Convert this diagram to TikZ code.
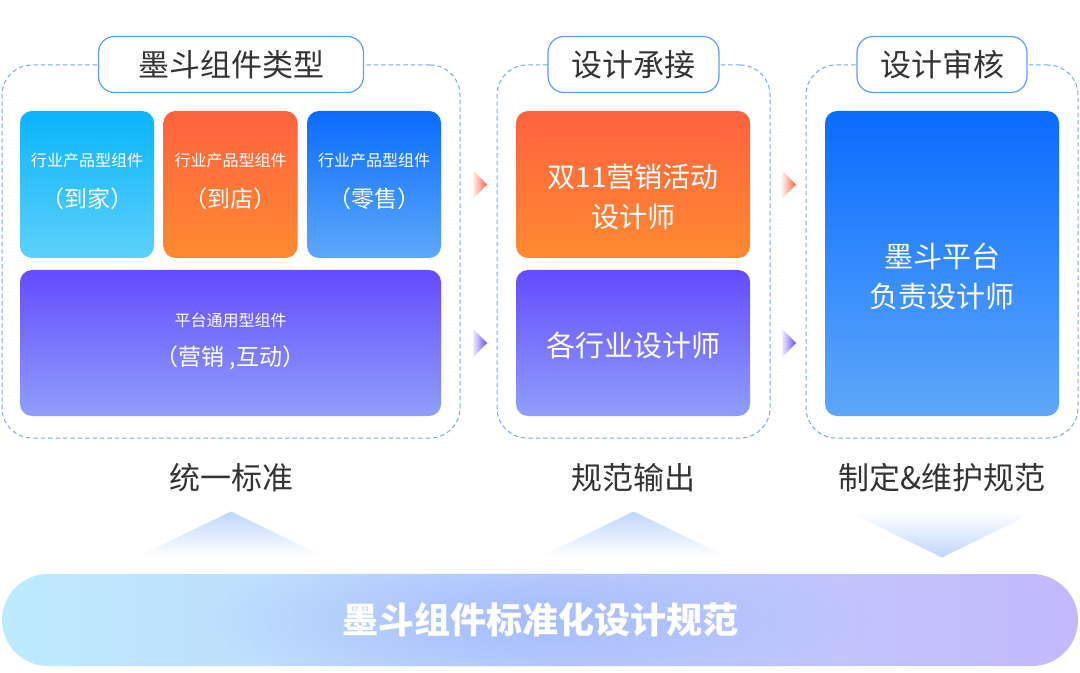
\documentclass[tikz,border=0pt]{standalone}
\usepackage{fontspec}
\setmainfont{Noto Sans CJK SC}
\usetikzlibrary{calc,fadings}
\definecolor{mdtext}{HTML}{333333}
\definecolor{mddash}{HTML}{6EA8F5}
\definecolor{mdtab}{HTML}{5E9EF6}
\definecolor{mycyan}{HTML}{0AB4FC}
\definecolor{mycyanlt}{HTML}{5DD0FA}
\definecolor{myorange}{HTML}{FF6240}
\definecolor{myorangelt}{HTML}{FF8A31}
\definecolor{myblue}{HTML}{0A6CFF}
\definecolor{mybluelt}{HTML}{5EA8FA}
\definecolor{mypurple}{HTML}{644CFF}
\definecolor{mypurplelt}{HTML}{909EFA}
\definecolor{mytri}{HTML}{BFD6FD}
\definecolor{mybarleft}{HTML}{BDEBFD}
\definecolor{mybarright}{HTML}{C3B9FC}
\definecolor{mybarmid}{HTML}{A6BCFD}
\tikzfading[name=mdfadesouth, top color=transparent!0, bottom color=transparent!100]
\tikzfading[name=mdfadenorth, top color=transparent!100, bottom color=transparent!0]
\tikzfading[name=mdfadeeast, left color=transparent!90, right color=transparent!0]
\tikzfading[name=mdglow, inner color=transparent!0, outer color=transparent!100]
\tikzset{
    grpbox/.style={draw=mddash, dash pattern=on 2.2pt off 1.5pt, line width=0.5pt, rounded corners=15pt, minimum height=186.5pt},
    tabbox/.style={draw=mdtab, fill=white, line width=0.6pt, rounded corners=8pt, minimum height=28pt, text=mdtext, font=\fontsize{15.5}{18}\selectfont},
    cardbox/.style={rounded corners=6pt, inner sep=0pt},
    cardtxt/.style={text=white, inner sep=0pt},
    steptxt/.style={text=mdtext, inner sep=0pt, font=\fontsize{15.5}{18}\selectfont},
}

\begin{document}
\begin{tikzpicture}[x=0.5pt,y=-0.5pt]
  \useasboundingbox (0,0) rectangle (1080,673);
  % Groups (dashed) + tabs
  \node[grpbox, minimum width=229pt] (G1) at (231,251.5) {};
  \node[grpbox, minimum width=136.5pt] (G2) at (633.5,251.5) {};
  \node[grpbox, minimum width=136pt] (G3) at (942,251.5) {};
  \node[tabbox, minimum width=132.5pt] (H1) at (G1.north) {墨斗组件类型};
  \node[tabbox, minimum width=85.5pt] (H2) at (G2.north) {设计承接};
  \node[tabbox, minimum width=85pt] (H3) at (G3.north) {设计审核};
  % Group 1: industry cards (3) + platform card
  \foreach \i/\c/\cl/\t in {1/mycyan/mycyanlt/到家, 2/myorange/myorangelt/到店, 3/myblue/mybluelt/零售}{
    \pgfmathsetmacro{\x}{87+143.5*(\i-1)}
    \node[cardbox, minimum width=67pt, minimum height=73.5pt, top color=\c, bottom color=\cl]
      (C1-\i) at (\x,184.5) {};
    \node[cardtxt, font=\fontsize{8}{10}\selectfont] (T1-\i) at ($(C1-\i.center)+(0,-24.5)$) {行业产品型组件};
    \node[cardtxt, font=\fontsize{11.5}{14}\selectfont] (P1-\i) at ($(C1-\i.center)+(0,14.5)$) {（\t）};
  }
  \node[cardbox, minimum width=210.5pt, minimum height=73pt, top color=mypurple, bottom color=mypurplelt]
    (C2) at (230.5,343) {};
  \node[cardtxt, font=\fontsize{8}{10}\selectfont] (T2) at ($(C2.center)+(0,-23)$) {平台通用型组件};
  \node[cardtxt, font=\fontsize{11.5}{14}\selectfont] (P2) at ($(C2.center)+(0,15)$) {（营销 ,互动）};
  % Group 2: designers
  \node[cardbox, minimum width=117pt, minimum height=73.5pt, top color=myorange, bottom color=myorangelt]
    (D1) at (633,184.5) {};
  \node[cardtxt, font=\fontsize{14}{16}\selectfont] (T3) at ($(D1.center)+(0,-7.5)$) {双11营销活动};
  \node[cardtxt, font=\fontsize{14}{16}\selectfont] (P3) at ($(D1.center)+(0,32.5)$) {设计师};
  \node[cardbox, minimum width=117pt, minimum height=73pt, top color=mypurple, bottom color=mypurplelt]
    (D2) at (633,343) {};
  \node[cardtxt, font=\fontsize{14.5}{16}\selectfont] (T4) at ($(D2.center)+(0,2)$) {各行业设计师};
  % Group 3: review
  \node[cardbox, minimum width=117pt, minimum height=152.5pt, top color=myblue, bottom color=mybluelt]
    (E1) at (942,263.5) {};
  \node[cardtxt, font=\fontsize{14.5}{16}\selectfont] (T5) at ($(E1.center)+(0,-7)$) {墨斗平台};
  \node[cardtxt, font=\fontsize{14.5}{16}\selectfont] (P5) at ($(E1.center)+(0,33)$) {负责设计师};
  % small arrows between groups
  \coordinate (A1) at ($(G1.east)!0.5!(G2.west)+(1.5,0)$);
  \coordinate (A2) at ($(G2.east)!0.5!(G3.west)+(1,0)$);
  \foreach \a in {A1,A2}{
    \fill[myorange, path fading=mdfadeeast] (\a |- D1.center) ++(-7,-14) -- ++(14,14) -- ++(-14,14) -- cycle;
    \fill[mypurple, path fading=mdfadeeast] (\a |- D2.center) ++(-7,-14) -- ++(14,14) -- ++(-14,14) -- cycle;
  }
  % LABELS
  \node[steptxt] (L1) at ($(G1.south)+(0,39)$) {统一标准};
  \node[steptxt] (L2) at ($(G2.south)+(0,39)$) {规范输出};
  \node[steptxt] (L3) at ($(G3.south)+(0,39)$) {制定\&维护规范};
  % big triangles
  \fill[mytri, path fading=mdfadesouth] ($(G1.south)+(0,73)$) -- ++(93,45) -- ++(-186,0) -- cycle;
  \fill[mytri, path fading=mdfadesouth] ($(G2.south)+(0,73)$) -- ++(93,45) -- ++(-186,0) -- cycle;
  \fill[mytri, path fading=mdfadenorth] ($(G3.south)+(0,119)$) -- ++(94,-46) -- ++(-188,0) -- cycle;
  % bottom bar
  \node[rounded corners=23pt, minimum width=538pt, minimum height=46pt, left color=mybarleft, right color=mybarright]
    (B) at (540,620) {};
  \begin{scope}
    \path[clip, rounded corners=23pt] (B.south west) rectangle (B.north east);
    \fill[mybarmid, path fading=mdglow] (B.center) ellipse (330 and 80);
  \end{scope}
  \node[text=white, font=\fontsize{18}{20}\selectfont\bfseries] (BT) at (B.center) {墨斗组件标准化设计规范};
\end{tikzpicture}
\end{document}
